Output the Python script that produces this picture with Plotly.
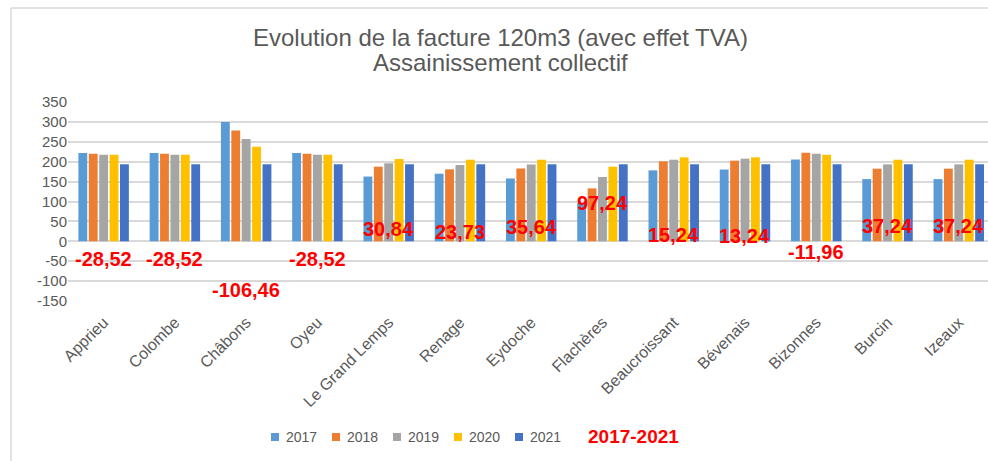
import plotly.graph_objects as go

communes = ["Apprieu", "Colombe", "Châbons", "Oyeu", "Le Grand Lemps", "Renage",
            "Eydoche", "Flachères", "Beaucroissant", "Bévenais", "Bizonnes",
            "Burcin", "Izeaux"]

years = ["2017", "2018", "2019", "2020", "2021"]

v2017 = [222.06, 222.06, 300.00, 222.06, 162.70, 169.81, 157.90, 96.30, 178.30, 180.30, 205.50, 156.30, 156.30]
v2018 = [220.0, 220.0, 278.7, 220.0, 187.5, 180.8, 183.0, 133.0, 201.0, 202.6, 222.6, 182.5, 182.5]
v2019 = [217.6, 217.6, 257.0, 217.6, 196.0, 191.7, 193.0, 161.5, 205.0, 207.6, 220.0, 193.3, 193.3]
v2020 = [217.6, 217.6, 237.7, 217.6, 206.7, 205.0, 205.0, 187.5, 211.0, 211.0, 217.6, 205.0, 205.0]
v2021 = [193.54] * 13

# écart 2017-2021 (affiché en rouge)
ecarts = [-28.52, -28.52, -106.46, -28.52, 30.84, 23.73, 35.64, 97.24, 15.24, 13.24, -11.96, 37.24, 37.24]

y_ticks = [-150, -100, -50, 0, 50, 100, 150, 200, 250, 300, 350]
y_labels = ["-150", "-100", "-50", "0", "50", "100", "150", "200", "250", "300", "350"]

title_lines = ["Evolution de la facture 120m3 (avec effet TVA)", "Assainissement collectif"]

colors = ["#5B9BD5", "#ED7D31", "#A5A5A5", "#FFC000", "#4472C4"]
grey = "#595959"
font_fam = "Liberation Sans, Arial"

# zone de tracé en pixels (marges)
ML, MT, MB, W, H = 68, 102, 160, 988, 461
PW, PH = W - ML, H - MT - MB


def px_x(px):
    return (px - ML) / PW


def px_y(py):
    return (H - MB - py) / PH


fig = go.Figure()
for year, vals, col in zip(years, [v2017, v2018, v2019, v2020, v2021], colors):
    fig.add_trace(go.Bar(x=communes, y=vals, name=year, marker_color=col,
                         marker_line_width=0, showlegend=False))

for commune, e in zip(communes, ecarts):
    fig.add_annotation(
        x=commune, y=e, text="<b>" + ("%.2f" % e).replace(".", ",") + "</b>",
        showarrow=False, yanchor="middle", yshift=(-6 if e < 0 else 0),
        font=dict(family=font_fam, size=20, color="#FF0000"),
    )

# légende (carrés + années) dessinée à la main, comme dans Excel
for i, (year, col) in enumerate(zip(years, colors)):
    x0 = 271 + i * 61
    fig.add_shape(type="rect", xref="paper", yref="paper",
                  x0=px_x(x0), x1=px_x(x0 + 8), y0=px_y(441), y1=px_y(433),
                  fillcolor=col, line_width=0)
    fig.add_annotation(xref="paper", yref="paper", x=px_x(x0 + 13), y=px_y(437),
                       text=year, showarrow=False, xanchor="left", yanchor="middle",
                       font=dict(family=font_fam, size=14, color=grey))

fig.add_annotation(
    xref="paper", yref="paper", x=px_x(633), y=px_y(437), text="<b>2017-2021</b>",
    showarrow=False, xanchor="center", yanchor="middle",
    font=dict(family=font_fam, size=19, color="#FF0000"),
)

# titre sur deux lignes
for txt, py in zip(title_lines, [37, 63]):
    fig.add_annotation(xref="paper", yref="paper", x=px_x(500), y=px_y(py), text=txt,
                       showarrow=False, xanchor="center", yanchor="middle",
                       font=dict(family=font_fam, size=24, color=grey))

# cadre du graphique
fig.add_shape(type="line", xref="paper", yref="paper", x0=px_x(11), x1=1.01,
              y0=px_y(8), y1=px_y(8), line=dict(color="#D9D9D9", width=1.5))
fig.add_shape(type="line", xref="paper", yref="paper", x0=px_x(11), x1=px_x(11),
              y0=px_y(8), y1=px_y(462), line=dict(color="#D9D9D9", width=1.5))

fig.update_layout(
    width=W, height=H,
    margin=dict(l=ML, r=0, t=MT, b=MB),
    paper_bgcolor="white", plot_bgcolor="white",
    font=dict(family=font_fam, color=grey),
    barmode="group", bargap=0.27, bargroupgap=0.15,
    showlegend=False,
    xaxis=dict(range=[-0.5, 12.41], tickangle=-45, tickfont=dict(size=16, color=grey),
               showgrid=False, showline=False, ticks="", ticklabelstandoff=8),
    yaxis=dict(range=[-150, 350], tickvals=y_ticks, ticktext=y_labels,
               tickfont=dict(size=15, color=grey),
               gridcolor="#D9D9D9", gridwidth=1.5, zeroline=True,
               zerolinecolor="#D9D9D9", zerolinewidth=1.5, showline=False,
               ticks="", ticklen=0),
)

fig.write_html("out.html", config={"displayModeBar": False},
               post_script="document.body.style.margin='0';")
